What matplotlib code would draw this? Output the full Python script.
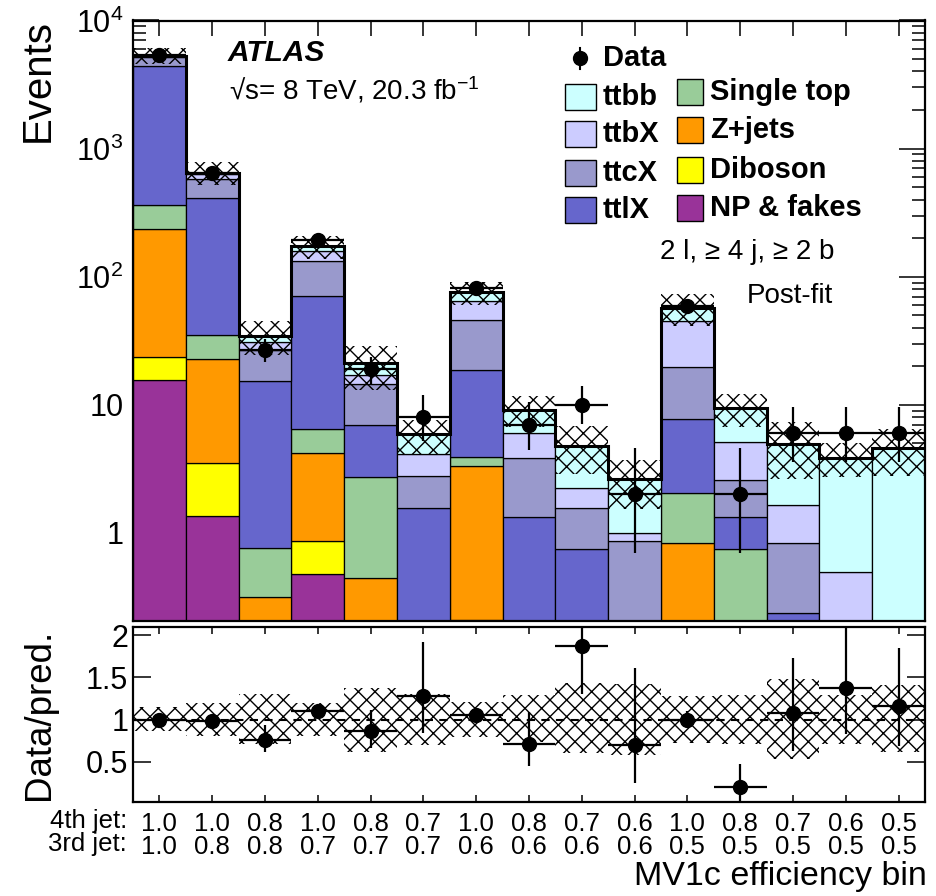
import numpy as np
import matplotlib
matplotlib.use('Agg')
import matplotlib.pyplot as plt
from matplotlib.patches import Rectangle
from matplotlib.lines import Line2D
from matplotlib.ticker import FixedLocator, FixedFormatter, LogLocator, NullFormatter

plt.rcParams['font.family'] = ['Liberation Sans', 'DejaVu Sans']
plt.rcParams['mathtext.fontset'] = 'custom'
plt.rcParams['mathtext.rm'] = 'Liberation Sans'
plt.rcParams['mathtext.it'] = 'Liberation Sans:italic'
plt.rcParams['mathtext.bf'] = 'Liberation Sans:bold'
plt.rcParams['hatch.linewidth'] = 1.0

# ---------------- data ----------------
jet4 = ['1.0', '1.0', '0.8', '1.0', '0.8', '0.7', '1.0', '0.8', '0.7', '0.6', '1.0', '0.8', '0.7', '0.6', '0.5']
jet3 = ['1.0', '0.8', '0.8', '0.7', '0.7', '0.7', '0.6', '0.6', '0.6', '0.6', '0.5', '0.5', '0.5', '0.5', '0.5']

np_fakes   = [15.7, 1.36, 0, 0.475, 0, 0, 0, 0, 0, 0, 0, 0, 0, 0, 0]
diboson    = [8.0, 2.16, 0, 0.39, 0, 0, 0.21, 0, 0, 0, 0, 0, 0, 0, 0]
zjets      = [213, 19.4, 0.318, 3.37, 0.445, 0, 3.09, 0, 0, 0, 0.831, 0, 0, 0, 0]
single_top = [128, 12.3, 0.441, 2.29, 2.30, 0, 0.64, 0, 0, 0, 1.23, 0.745, 0, 0, 0]
ttlX       = [4085, 379, 14.6, 64.2, 4.20, 1.56, 14.9, 1.32, 0.745, 0, 5.67, 0.575, 0.238, 0, 0]
ttcX       = [700, 169, 11.4, 62.3, 7.56, 1.23, 27.3, 2.55, 0.815, 0.866, 12.1, 1.26, 0.592, 0, 0]
ttbX       = [100, 55, 3.9, 27, 2.7, 1.33, 18.8, 2.10, 0.66, 0.124, 25.0, 2.50, 0.82, 0.496, 0]
ttbb       = [80, 11, 3.9, 12.6, 3.8, 1.78, 10.5, 3.17, 2.56, 1.64, 12.1, 4.28, 3.33, 3.37, 4.59]

data        = [5420, 650, 27, 194, 19, 8, 81, 7, 10, 2, 59, 2, 6, 6, 6]
data_err_lo = [74, 25, 5.5, 14, 4.4, 2.8, 9, 2.6, 2.9, 1.3, 7.7, 1.3, 2.4, 2.4, 2.4]
data_err_hi = [74, 25, 5.5, 14, 4.4, 3.9, 9, 3.6, 4.1, 2.6, 7.7, 2.6, 3.6, 3.6, 3.6]

unc_up = [0.15, 0.20, 0.30, 0.20, 0.38, 0.30, 0.21, 0.29, 0.43, 0.42, 0.28, 0.29, 0.48, 0.29, 0.41]
unc_dn = [0.14, 0.20, 0.29, 0.20, 0.38, 0.30, 0.21, 0.27, 0.40, 0.42, 0.28, 0.29, 0.47, 0.29, 0.39]

ratio    = [1.00, 0.98, 0.76, 1.10, 0.86, 1.28, 1.05, 0.71, 1.88, 0.70, 1.00, 0.20, 1.08, 1.37, 1.16]
ratio_hi = [1.03, 1.02, 0.93, 1.14, 1.11, 1.92, 1.12, 1.09, 2.50, 1.61, 1.10, 0.47, 1.73, 2.50, 1.85]
ratio_lo = [0.97, 0.94, 0.61, 1.06, 0.66, 0.84, 0.98, 0.45, 1.30, 0.24, 0.90, 0.00, 0.63, 0.83, 0.69]

components = [
    ('NP & fakes', np_fakes, '#993399'),
    ('Diboson', diboson, '#ffff00'),
    ('Z+jets', zjets, '#ff9900'),
    ('Single top', single_top, '#99cc99'),
    ('ttlX', ttlX, '#6666cc'),
    ('ttcX', ttcX, '#9999cc'),
    ('ttbX', ttbX, '#ccccff'),
    ('ttbb', ttbb, '#ccffff'),
]

# ---------------- figure ----------------
W, H = 937, 896
fig = plt.figure(figsize=(W / 100, H / 100), dpi=100)


def fx(x):
    return x / W


def fy(y):
    return 1 - y / H


L, R = 133, 925
ax = fig.add_axes([fx(L), fy(621), fx(R) - fx(L), fy(20.5) - fy(621)])
ax2 = fig.add_axes([fx(L), fy(802), fx(R) - fx(L), fy(627) - fy(802)])

n = len(data)
centers = np.arange(n) + 0.5
edges = np.arange(n + 1)

ax.set_yscale('log')
ax.set_xlim(0, n)
ax.set_ylim(0.205, 1e4)

cum = np.zeros(n)
for name, vals, col in components:
    v = np.array(vals, dtype=float)
    mask = v > 0
    bottoms = np.maximum(cum, 0.01)
    ax.bar(centers[mask], (cum + v)[mask] - bottoms[mask], bottom=bottoms[mask], width=1.0,
           color=col, edgecolor='black', linewidth=0.9, zorder=2)
    cum = cum + v
total = cum

up = np.array(unc_up)
dn = np.array(unc_dn)
ax.bar(centers, total * (up + dn), bottom=total * (1 - dn), width=1.0, fill=False,
       hatch='xx', linewidth=0, edgecolor='black', zorder=3)
ax.stairs(total, edges, baseline=None, color='black', linewidth=2.2, zorder=4)

ax.errorbar(centers, data, yerr=[data_err_lo, data_err_hi], xerr=0.5, fmt='o', color='black',
            ms=10, elinewidth=1.6, capsize=0, zorder=5, clip_on=True)

ax.yaxis.set_major_locator(FixedLocator([1, 10, 100, 1000, 10000]))
ax.yaxis.set_major_formatter(FixedFormatter(['1', '10', '$10^{2}$', '$10^{3}$', '$10^{4}$']))
ax.yaxis.set_minor_locator(LogLocator(base=10, subs=np.arange(2, 10), numticks=20))
ax.yaxis.set_minor_formatter(NullFormatter())
ax.set_xticks(centers)
ax.set_xticklabels([])
ax.tick_params(axis='y', which='major', direction='in', length=19, width=1.1, right=True,
               labelsize=22, pad=7)
ax.tick_params(axis='y', which='minor', direction='in', length=9.5, width=1.1, right=True)
ax.tick_params(axis='x', which='major', direction='in', length=11, width=1.1, top=True)
ax.tick_params(axis='x', which='minor', bottom=False, top=False)
for s in ax.spines.values():
    s.set_linewidth(1.6)

# ratio panel
ax2.set_xlim(0, n)
ax2.set_ylim(0.02, 2.1)
ax2.bar(centers, up + dn, bottom=1 - dn, width=1.0, fill=False, hatch='xx', linewidth=0,
        edgecolor='black', zorder=2)
ax2.axhline(1.0, color='black', linestyle=(0, (4, 3)), linewidth=1.5, zorder=3)
r = np.array(ratio)
ax2.errorbar(centers, r, yerr=[r - np.array(ratio_lo), np.array(ratio_hi) - r], xerr=0.5,
             fmt='o', color='black', ms=10, elinewidth=1.6, capsize=0, zorder=5)
ax2.set_yticks([0.5, 1.0, 1.5, 2.0])
ax2.set_yticklabels(['0.5', '1', '1.5', '2'])
ax2.set_xticks(centers)
ax2.set_xticklabels([a + '\n' + b for a, b in zip(jet4, jet3)])
for lbl in ax2.get_xticklabels():
    lbl.set_linespacing(0.95)
ax2.tick_params(axis='y', direction='in', length=13, width=1.1, right=True, labelsize=22, pad=3.5)
ax2.tick_params(axis='x', direction='in', length=5, width=1.1, top=True, labelsize=18.5, pad=7)
for s in ax2.spines.values():
    s.set_linewidth(1.6)

fig.text(fx(127), fy(809), '4th jet:\n3rd jet:', ha='right', va='top', fontsize=18.5,
         linespacing=0.95)
fig.text(fx(927), fy(861), 'MV1c efficiency bin', ha='right', va='top', fontsize=24.5)
fig.text(fx(38), fy(19), 'Events', rotation=90, ha='center', va='top', fontsize=29)
fig.text(fx(40), fy(714), 'Data/pred.', rotation=90, ha='center', va='center', fontsize=26.5)

# annotations
fig.text(fx(228), fy(53), 'ATLAS', fontsize=21.5, fontweight='bold', fontstyle='italic',
         ha='left', va='center')
fig.text(fx(229), fy(90), '√s= 8 TeV, 20.3 fb$^{-1}$', fontsize=20, ha='left', va='center')
fig.text(fx(660), fy(252), '2 l, ≥ 4 j, ≥ 2 b', fontsize=20, ha='left', va='center')
fig.text(fx(747), fy(296), 'Post-fit', fontsize=20, ha='left', va='center')

# legend (manual)
fig.add_artist(Line2D([fx(580), fx(580)], [fy(48), fy(69)], color='black', lw=1.5,
                      transform=fig.transFigure))
fig.add_artist(Line2D([fx(580)], [fy(58)], marker='o', ms=10, color='black', lw=0,
                      transform=fig.transFigure))
fig.text(fx(603), fy(58), 'Data', fontsize=21, fontweight='bold', ha='left', va='center')

col1 = [('ttbb', '#ccffff', 97), ('ttbX', '#ccccff', 134), ('ttcX', '#9999cc', 173),
        ('ttlX', '#6666cc', 210)]
col2 = [('Single top', '#99cc99', 92), ('Z+jets', '#ff9900', 130), ('Diboson', '#ffff00', 170),
        ('NP & fakes', '#993399', 208)]
for (lab, colr, yc) in col1:
    fig.add_artist(Rectangle((fx(565), fy(yc + 13)), fx(31), 26 / H, facecolor=colr,
                             edgecolor='black', lw=1.0, transform=fig.transFigure))
    fig.text(fx(603), fy(yc), lab, fontsize=21, fontweight='bold', ha='left', va='center')
for (lab, colr, yc) in col2:
    fig.add_artist(Rectangle((fx(677), fy(yc + 13)), fx(26), 26 / H, facecolor=colr,
                             edgecolor='black', lw=1.0, transform=fig.transFigure))
    fig.text(fx(710), fy(yc), lab, fontsize=21, fontweight='bold', ha='left', va='center')

fig.savefig('out.png', dpi=100)
